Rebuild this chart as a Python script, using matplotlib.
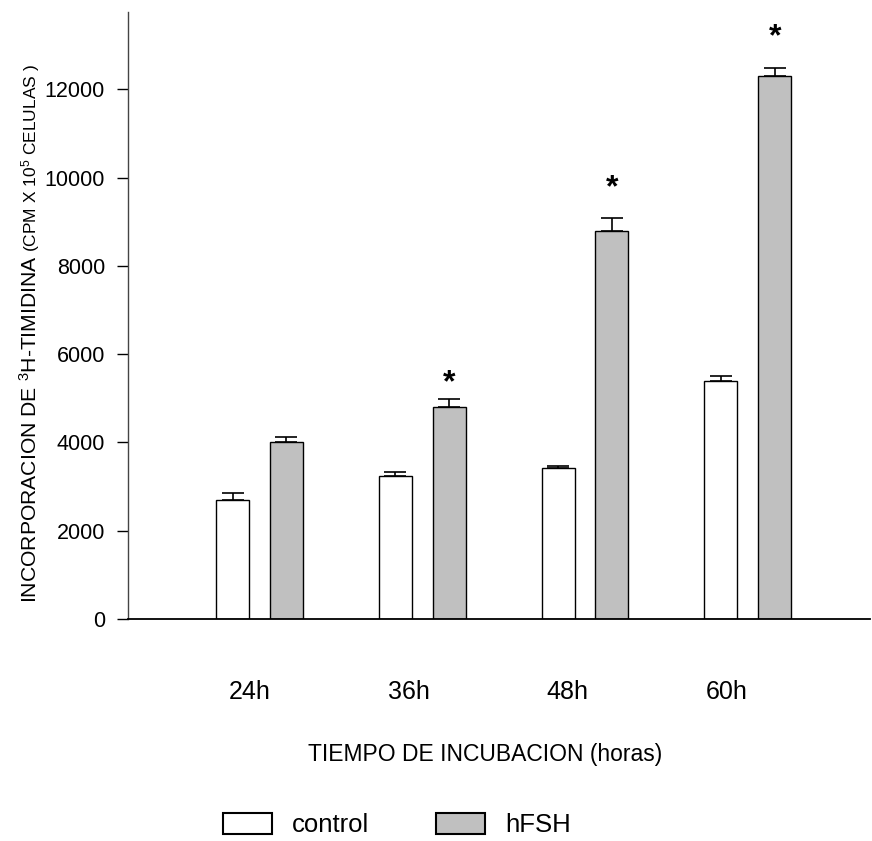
import numpy as np
import matplotlib
matplotlib.use("Agg")
import matplotlib.pyplot as plt
from matplotlib.patches import Patch

plt.rcParams['font.family'] = ['Liberation Sans', 'DejaVu Sans']
plt.rcParams['mathtext.fontset'] = 'custom'
plt.rcParams['mathtext.rm'] = 'Liberation Sans'
plt.rcParams['mathtext.it'] = 'Liberation Sans:italic'
plt.rcParams['mathtext.bf'] = 'Liberation Sans:bold'

# Datos
tiempos = ['24h', '36h', '48h', '60h']
control = [2700, 3250, 3430, 5380]
control_err = [150, 80, 40, 120]
hfsh = [4000, 4800, 8800, 12300]
hfsh_err = [130, 180, 280, 190]
# altura de los asteriscos de significancia (None = sin asterisco)
asterisco_y = [None, 5330, 9750, 13180]

W, H = 872, 841
fig = plt.figure(figsize=(W / 100, H / 100), dpi=100)

# ejes en coordenadas de pixel
x0, x1, ytop, ybot = 128, 870, 12, 619
ax = fig.add_axes([x0 / W, 1 - ybot / H, (x1 - x0) / W, (ybot - ytop) / H])

x = np.arange(len(tiempos))
ancho = 0.203
sep = 0.165

ax.bar(x - sep, control, ancho, color='white', edgecolor='black', linewidth=1.0, zorder=2)
ax.bar(x + sep, hfsh, ancho, color='#c0c0c0', edgecolor='black', linewidth=1.0, zorder=2)

ax.errorbar(x - sep, control, yerr=[np.zeros(len(control)), control_err], fmt='none',
            ecolor='black', elinewidth=1.2, capsize=8, capthick=1.2, zorder=1)
ax.errorbar(x + sep, hfsh, yerr=[np.zeros(len(hfsh)), hfsh_err], fmt='none',
            ecolor='black', elinewidth=1.2, capsize=8, capthick=1.2, zorder=1)

for i, yy in enumerate(asterisco_y):
    if yy is not None:
        ax.text(x[i] + sep, yy, '*', ha='center', va='center', fontsize=23,
                fontweight='bold', color='black')

ax.set_xlim(-0.807, (x1 - 259.4) / 162.8)
ax.set_ylim(0, 13750)
ax.set_yticks(np.arange(0, 12001, 2000))
# etiquetas de tiempo algo desplazadas respecto a los grupos
ax.set_xticks(-0.058 + 0.976 * x)
ax.set_xticklabels(tiempos, fontsize=18)
ax.tick_params(axis='x', length=0, pad=44)
ax.tick_params(axis='y', length=8, width=1, labelsize=15.5, pad=8.5, direction='out')

for s in ['top', 'right']:
    ax.spines[s].set_visible(False)
ax.spines['left'].set_linewidth(1.0)
ax.spines['left'].set_color('#444444')
ax.spines['bottom'].set_linewidth(1.3)

# etiqueta del eje y en dos tamanos
t1 = fig.text(36.7 / W, 1 - 603 / H, 'INCORPORACION DE $^{3}$H-TIMIDINA', rotation=90,
              rotation_mode='anchor', ha='left', va='baseline', fontsize=15.2)
fig.canvas.draw()
bb = t1.get_window_extent()
fig.text(36.7 / W, (bb.y1 + 3) / H, '(CPM X 10$^{5}$ CELULAS )', rotation=90,
         rotation_mode='anchor', ha='left', va='baseline', fontsize=12.5)

fig.text(485 / W, 1 - 754 / H, 'TIEMPO DE INCUBACION (horas)', ha='center', va='center',
         fontsize=16.5)

handles = [Patch(facecolor='white', edgecolor='black', linewidth=1.5),
           Patch(facecolor='#c0c0c0', edgecolor='black', linewidth=1.5)]
fig.legend(handles, ['control', 'hFSH'], loc='center', bbox_to_anchor=(397 / W, 1 - 825 / H),
           ncol=2, frameon=False, fontsize=18.5, handlelength=1.9, handleheight=0.93,
           handletextpad=0.8, columnspacing=2.6, borderpad=0, borderaxespad=0)

fig.savefig('out.png', dpi=100)
